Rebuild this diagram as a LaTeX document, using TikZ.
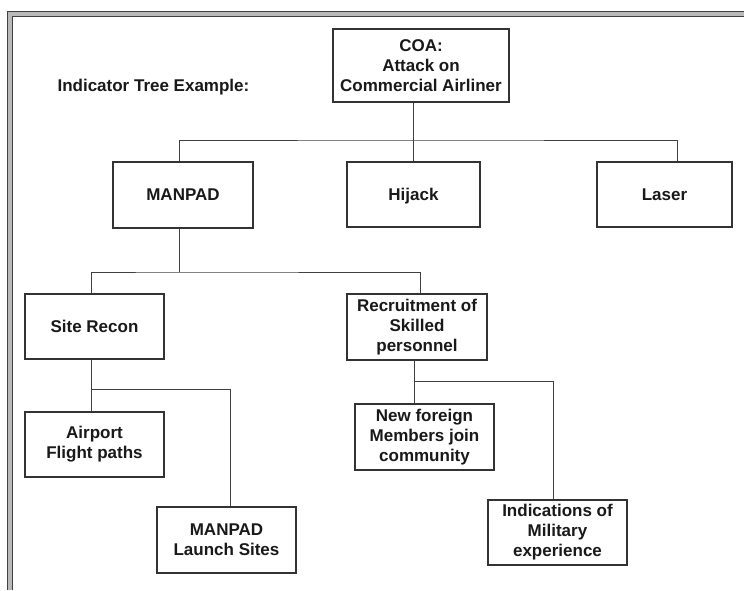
\documentclass[tikz,border=0pt]{standalone}
\usepackage{fontspec}
\setmainfont{Liberation Sans}
\begin{document}
\begin{tikzpicture}[x=1pt,y=-1pt,
  box/.style={draw=black!80, line width=1.2pt, fill=white, inner sep=0pt,
    align=center, font=\fontsize{17}{20}\selectfont\bfseries, text=black!90},
  link/.style={draw=black!75, line width=1pt},
  frameline/.style={line width=1pt, draw=black!75}]
\useasboundingbox (0,0) rectangle (744,590);
\fill[white] (0,0) rectangle (744,590);

% double frame along the left and top edges
\draw[line width=5pt, draw=gray!55] (10,590) -- (10,14) -- (744,14);
\draw[frameline] (7.5,590) -- (7.5,11.5) -- (744,11.5);
\draw[frameline] (12.5,590) -- (12.5,16.5) -- (744,16.5);

\node[font=\fontsize{17}{20}\selectfont\bfseries, text=black!90, anchor=west] (title) at (54,87) {Indicator Tree Example:};

% boxes
\node[box, minimum width=176pt, minimum height=73pt] (coa) at (421,65.5) {COA:\\Attack on\\Commercial Airliner};
\node[box, minimum width=140pt, minimum height=66pt] (man) at (183,195) {MANPAD};
\node[box, minimum width=133pt, minimum height=65pt, text depth=0pt] (hij) at (413.5,194.5) {Hijack};
\node[box, minimum width=135pt, minimum height=65pt] (las) at (664.5,194.5) {Laser};
\node[box, minimum width=139pt, minimum height=65pt] (site) at (94.5,326.5) {Site Recon};
\node[box, minimum width=140pt, minimum height=66pt] (rec) at (417,327) {Recruitment of\\Skilled\\personnel};
\node[box, minimum width=139pt, minimum height=65pt] (air) at (94.5,444.5) {Airport\\Flight paths};
\node[box, minimum width=139pt, minimum height=66pt] (mls) at (226.5,540) {MANPAD\\Launch Sites};
\node[box, minimum width=139pt, minimum height=66pt] (nfm) at (424.5,437) {New foreign\\Members join\\community};
\node[box, minimum width=139pt, minimum height=65pt] (ind) at (557.5,532.5) {Indications of\\Military\\experience};

% bus points
\coordinate (bus1) at (413.5,140);
\coordinate (bus2) at (179,272);
\coordinate (bus3) at (91,389);
\coordinate (bus4) at (414,381);

% connectors
\draw[link] (coa.south -| hij.north) -- (hij.north);
\draw[link] ([xshift=-4pt]man.north) |- (bus1) -| ([xshift=12.5pt]las.north);
\draw[link] ([xshift=-4pt]man.south) -- (bus2);
\draw[link] ([xshift=-3.5pt]site.north) |- (bus2) -| ([xshift=3pt]rec.north);
\draw[link] ([xshift=-3.5pt]site.south) -- ([xshift=-3.5pt]air.north);
\draw[link] (bus3) -| ([xshift=3.5pt]mls.north);
\draw[link] ([xshift=-3pt]rec.south) -- ([xshift=-10.5pt]nfm.north);
\draw[link] (bus4) -| ([xshift=-4.5pt]ind.north);
\end{tikzpicture}
\end{document}
